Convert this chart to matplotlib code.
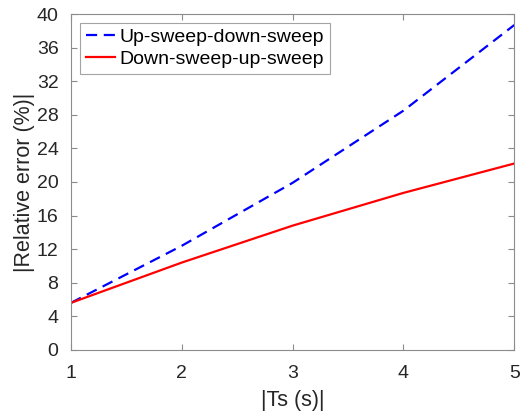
import matplotlib
matplotlib.use("Agg")
import matplotlib.pyplot as plt

# --- DATA ---
ts = [1, 2, 3, 4, 5]
err_up_down = [5.6, 12.4, 19.9, 28.5, 38.7]
err_down_up = [5.6, 10.4, 14.8, 18.7, 22.2]
y_ticks = [0, 4, 8, 12, 16, 20, 24, 28, 32, 36, 40]

plt.rcParams['font.family'] = ['Liberation Sans', 'DejaVu Sans']
txt_col = '#262626'
ax_col = '#8c8c8c'

fig = plt.figure(figsize=(5.2, 4.15), dpi=100)
ax = fig.add_axes([0.1365, 0.157, 0.8525, 0.809])

ax.plot(ts, err_up_down, color='#0000ff', lw=1.6, linestyle=(0, (5, 3)), label='Up-sweep-down-sweep')
ax.plot(ts, err_down_up, color='#ff0000', lw=1.6, label='Down-sweep-up-sweep')

ax.set_xlim(1, 5)
ax.set_ylim(0, 40)
ax.set_xticks(ts)
ax.set_yticks(y_ticks)

for s in ax.spines.values():
    s.set_color(ax_col)
    s.set_linewidth(0.8)
ax.tick_params(direction='in', which='both', top=True, right=True, length=4,
               color=ax_col, labelcolor=txt_col, labelsize=14)
ax.tick_params(axis='x', pad=11)
ax.tick_params(axis='y', pad=9)

ax.set_xlabel('|Ts (s)|', fontsize=15.5, color=txt_col, labelpad=6)
ax.set_ylabel('|Relative error (%)|', fontsize=15.5, color=txt_col, labelpad=1)

leg = ax.legend(loc='upper left', fontsize=14, frameon=True, fancybox=False,
                handlelength=1.5, handletextpad=0.25, borderpad=0.3,
                labelspacing=0.2, borderaxespad=0.45)
leg.get_frame().set_edgecolor(ax_col)
leg.get_frame().set_linewidth(0.8)
for t in leg.get_texts():
    t.set_color('black')

fig.savefig('out.png', dpi=100)
